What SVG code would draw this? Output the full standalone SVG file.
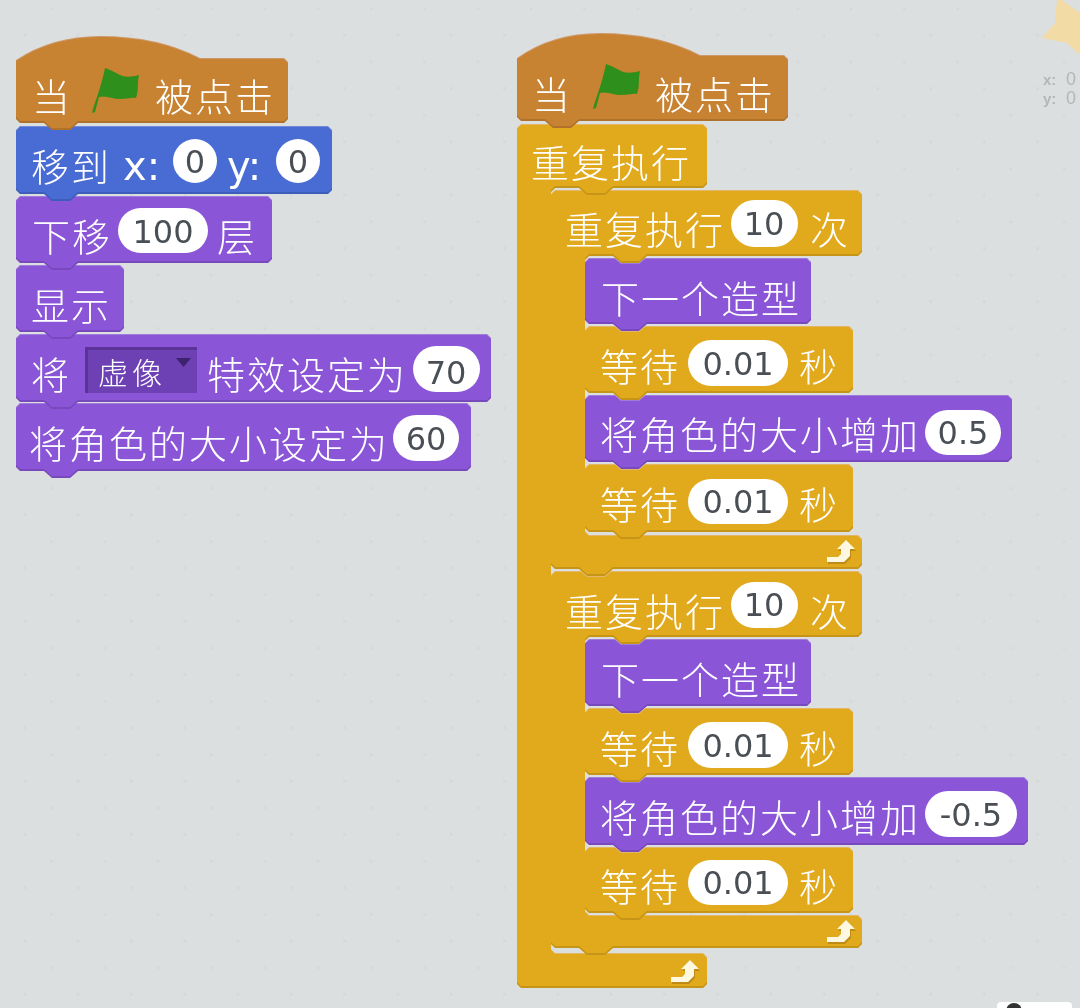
<svg xmlns="http://www.w3.org/2000/svg" width="1080" height="1008" viewBox="0 0 1080 1008">
<style>
.t{font-family:"Noto Sans CJK SC","Liberation Sans",sans-serif;font-size:38px;font-weight:300;fill:#fff;letter-spacing:2px}
.l{font-family:"DejaVu Sans",sans-serif;font-size:40px;fill:#fff}
.v{font-family:"DejaVu Sans",sans-serif;font-size:32px;fill:#4a4f55;text-anchor:middle}
.o{fill:#fff}
.hat{fill:#c88330}.mot{fill:#4a6cd4}.loo{fill:#8a55d7}.ctl{fill:#e1a91a}
.b{filter:url(#bev)}
.flag{fill:#2f8f1a}
.arr{fill:#fff8e0}.arrs{fill:#bd8b12}
.c{font-family:"Liberation Sans",sans-serif;fill:#b4b7b7}
</style>
<defs>
<pattern id="dots" width="53.3" height="53.3" patternUnits="userSpaceOnUse">
<circle cx="51.4" cy="8.5" r="1.4" fill="#d4d7d7"/><circle cx="24.7" cy="35" r="1.4" fill="#d4d7d7"/>
</pattern>
<filter id="bev" x="-5%" y="-5%" width="110%" height="110%">
<feOffset in="SourceAlpha" dy="-2" result="a"/>
<feComposite in="SourceAlpha" in2="a" operator="out" result="d"/>
<feFlood flood-color="#000" flood-opacity=".25"/><feComposite in2="d" operator="in" result="ds"/>
<feOffset in="SourceAlpha" dy="1" result="c"/>
<feComposite in="SourceAlpha" in2="c" operator="out" result="e"/>
<feFlood flood-color="#fff" flood-opacity=".12"/><feComposite in2="e" operator="in" result="es"/>
<feMerge><feMergeNode in="SourceGraphic"/><feMergeNode in="ds"/><feMergeNode in="es"/></feMerge>
</filter>
<filter id="soft" x="0" y="0" width="100%" height="100%"><feGaussianBlur stdDeviation=".6"/></filter>
<path id="flagp" d="M92 113L95 112L99 97C106 95 112 99 120 99C127 99 132 97 136 98C139 90 137 84 139 75C131 77 125 78 118 74C113 71 108 69 105 68C103 78 100 88 97 97C95 103 93 108 92 113Z"/>
<path id="arrow" d="M827 557h11l3-3v-5h-4l9-9 9 9h-5v7l-6 6h-17z"/>
</defs>
<g filter="url(#soft)">
<rect width="1080" height="1008" fill="#dcdfdf"/>
<rect width="1080" height="1008" fill="url(#dots)"/>

<g id="sprite">
<path d="M1057 0L1055 23L1042 38L1067 43L1080 55V13L1062 0Z" fill="#f3dba6"/>
<text class="c" x="1043" y="85" font-size="15" font-weight="700">x:</text>
<text class="c" x="1066" y="85" font-size="18">0</text>
<text class="c" x="1043" y="104" font-size="15" font-weight="700">y:</text>
<text class="c" x="1066" y="104" font-size="18">0</text>
</g>
<g id="toolbar">
<rect x="997" y="1002" width="75" height="10" rx="4" fill="#fff"/>
<circle cx="1014" cy="1011" r="8" fill="#333"/>
</g>

<g id="left-size">
<path class="b loo" d="M20 403H467l4 4V467l-4 4H78l-8 7H52l-8-7H20l-4-4V407z"/>
<text class="t" x="29" y="458">将角色的大小设定为</text>
<rect class="o" x="393" y="415" width="66" height="46" rx="23"/>
<text class="v" x="426" y="450">60</text>
</g>
<g id="left-effect">
<path class="b loo" d="M20 334H487l4 4V398l-4 4H78l-8 7H52l-8-7H20l-4-4V338z"/>
<text class="t" x="31" y="389">将</text>
<rect x="85" y="347" width="112" height="46" fill="#6d41b3"/>
<path d="M85 347h112v3H88v43h-3z" fill="#5a3398"/>
<text class="t" x="98" y="384" style="font-size:30px;letter-spacing:4px">虚像</text>
<path d="M176 358h15l-7.500 9z" fill="#3c2270"/>
<text class="t" x="207" y="389">特效设定为</text>
<rect class="o" x="413" y="346" width="67" height="46" rx="23"/>
<text class="v" x="446" y="384">70</text>
</g>
<g id="left-show">
<path class="b loo" d="M20 265H120l4 4V328l-4 4H78l-8 7H52l-8-7H20l-4-4V269z"/>
<text class="t" x="31" y="320">显示</text>
</g>
<g id="left-back">
<path class="b loo" d="M20 196H268l4 4V259l-4 4H78l-8 7H52l-8-7H20l-4-4V200z"/>
<text class="t" x="32" y="251">下移</text>
<rect class="o" x="118" y="208" width="90" height="45" rx="22.500"/>
<text class="v" x="163" y="243">100</text>
<text class="t" x="217" y="251">层</text>
</g>
<g id="left-goto">
<path class="b mot" d="M20 126H328l4 4V190l-4 4H78l-8 7H52l-8-7H20l-4-4V130z"/>
<text class="t" x="31" y="181">移到</text>
<text class="l" x="123" y="180">x:</text>
<circle class="o" cx="195" cy="161" r="22"/>
<text class="v" x="195" y="173">0</text>
<text class="l" x="227" y="180">y:</text>
<circle class="o" cx="298" cy="161" r="22"/>
<text class="v" x="298" y="173">0</text>
</g>
<g id="left-hat">
<path class="b hat" d="M16 60Q52 36 100 36Q158 36 200 58H284l4 4V119l-4 4H78l-8 7H52l-8-7H20l-4-4z"/>
<text class="t" x="32" y="111">当</text>
<use href="#flagp" class="flag"/>
<text class="t" x="155" y="111">被点击</text>
</g>

<g id="loop1">
<path class="b ctl" d="M555 190H858l4 4V252l-4 4H647l-8 7H621l-8-7H589l-4 4V531l4 4H858l4 4V565l-4 4H613l-8 7H587l-8-7H555l-4-4V194z"/>
<text class="t" x="565" y="244">重复执行</text>
<rect class="o" x="731" y="200" width="67" height="47" rx="23.500"/>
<text class="v" x="764" y="235">10</text>
<text class="t" x="810" y="244">次</text>
<use href="#arrow" class="arrs" transform="translate(1 2)"/><use href="#arrow" class="arr"/>
</g>
<g id="loop1-next">
<path class="b loo" d="M589 258H615l6 5H639l6-5H807l4 4V320l-4 4H647l-8 7H621l-8-7H589l-4-4V262z"/>
<text class="t" x="601" y="313">下一个造型</text>
</g>
<g id="loop1-wait1">
<path class="b ctl" d="M589 326H615l6 5H639l6-5H849l4 4V389l-4 4H647l-8 7H621l-8-7H589l-4-4V330z"/>
<text class="t" x="600" y="381">等待</text>
<rect class="o" x="688" y="340" width="100" height="46" rx="23"/>
<text class="v" x="738" y="375">0.01</text>
<text class="t" x="799" y="381">秒</text>
</g>
<g id="loop1-size">
<path class="b loo" d="M589 395H615l6 5H639l6-5H1008l4 4V458l-4 4H647l-8 7H621l-8-7H589l-4-4V399z"/>
<text class="t" x="600" y="449">将角色的大小增加</text>
<rect class="o" x="925" y="410" width="76" height="45" rx="22.500"/>
<text class="v" x="963" y="444">0.5</text>
</g>
<g id="loop1-wait2">
<path class="b ctl" d="M589 464H615l6 5H639l6-5H849l4 4V528l-4 4H647l-8 7H621l-8-7H589l-4-4V468z"/>
<text class="t" x="600" y="519">等待</text>
<rect class="o" x="688" y="479" width="100" height="45" rx="22.500"/>
<text class="v" x="738" y="513">0.01</text>
<text class="t" x="799" y="519">秒</text>
</g>

<g id="forever">
<path class="b ctl" d="M521 124H703l4 4V184l-4 4H613l-8 7H587l-8-7H555l-4 4V949l4 4H703l4 4V984l-4 4H521l-4-4V128z"/>
<text class="t" x="531" y="177">重复执行</text>
<use href="#arrow" class="arrs" transform="translate(-155 422)"/><use href="#arrow" class="arr" transform="translate(-156 420)"/>
</g>

<g id="loop2">
<path class="b ctl" d="M555 571H581l6 5H605l6-5H858l4 4V633l-4 4H647l-8 7H621l-8-7H589l-4 4V911l4 4H858l4 4V944l-4 4H613l-8 7H587l-8-7H555l-4-4V575z"/>
<text class="t" x="565" y="626">重复执行</text>
<rect class="o" x="731" y="582" width="67" height="46" rx="23"/>
<text class="v" x="764" y="616">10</text>
<text class="t" x="810" y="626">次</text>
<use href="#arrow" class="arrs" transform="translate(1 382)"/><use href="#arrow" class="arr" transform="translate(0 380)"/>
</g>
<g id="loop2-next">
<path class="b loo" d="M589 639H615l6 5H639l6-5H807l4 4V702l-4 4H647l-8 7H621l-8-7H589l-4-4V643z"/>
<text class="t" x="601" y="694">下一个造型</text>
</g>
<g id="loop2-wait1">
<path class="b ctl" d="M589 708H615l6 5H639l6-5H849l4 4V771l-4 4H647l-8 7H621l-8-7H589l-4-4V712z"/>
<text class="t" x="600" y="763">等待</text>
<rect class="o" x="688" y="722" width="100" height="46" rx="23"/>
<text class="v" x="738" y="757">0.01</text>
<text class="t" x="799" y="763">秒</text>
</g>
<g id="loop2-size">
<path class="b loo" d="M589 777H615l6 5H639l6-5H1024l4 4V841l-4 4H647l-8 7H621l-8-7H589l-4-4V781z"/>
<text class="t" x="600" y="832">将角色的大小增加</text>
<rect class="o" x="925" y="791" width="92" height="46" rx="23"/>
<text class="v" x="971" y="826">-0.5</text>
</g>
<g id="loop2-wait2">
<path class="b ctl" d="M589 847H615l6 5H639l6-5H849l4 4V909l-4 4H647l-8 7H621l-8-7H589l-4-4V851z"/>
<text class="t" x="600" y="901">等待</text>
<rect class="o" x="688" y="860" width="100" height="45" rx="22.500"/>
<text class="v" x="738" y="894">0.01</text>
<text class="t" x="799" y="901">秒</text>
</g>

<g id="right-hat">
<path class="b hat" d="M517 58Q552 33 600 33Q658 33 700 55H784l4 4V117l-4 4H579l-8 7H553l-8-7H521l-4-4z"/>
<text class="t" x="532" y="109">当</text>
<use href="#flagp" class="flag" transform="translate(501 -4)"/>
<text class="t" x="655" y="109">被点击</text>
</g>
</g>
</svg>
